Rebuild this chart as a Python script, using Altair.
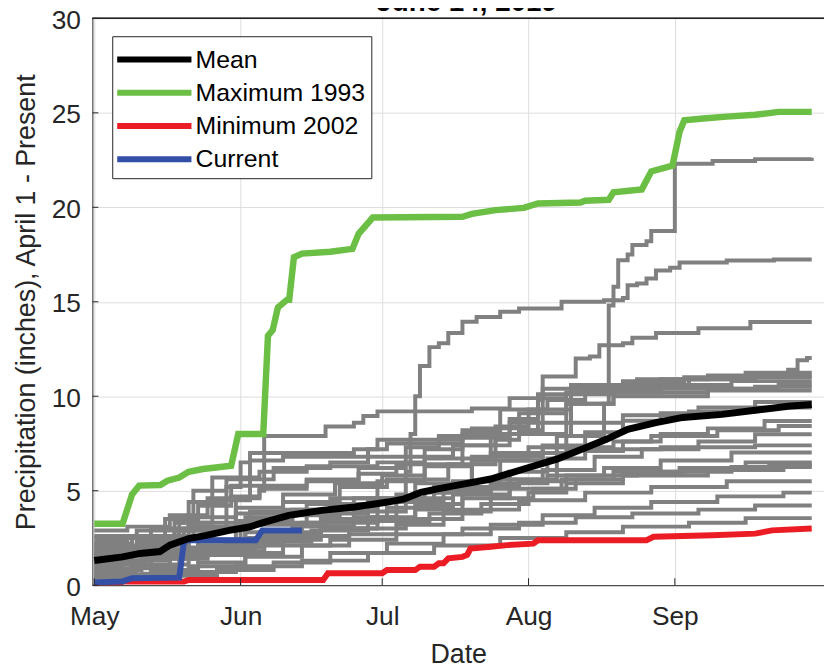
import altair as alt
import pandas as pd

# ---------------- data (day 0 = May 1, values in inches) ----------------
MONTH_STARTS = [0, 31, 61, 92, 123]
MONTH_LABELS = ["May", "Jun", "Jul", "Aug", "Sep"]
Y_TICKS = [0, 5, 10, 15, 20, 25, 30]
TITLE = ["June 14, 2019"]
SERIES = ["Mean", "Maximum 1993", "Minimum 2002", "Current"]
COLORS = ["#000000", "#6cbf45", "#ec1c24", "#3350a6"]

mean_pts = [(0, 1.31), (6, 1.5), (9.7, 1.68), (13.9, 1.78), (16, 2.12), (20, 2.47), (23.7, 2.64),
            (28.6, 2.9), (32.8, 3.08), (36.3, 3.35), (41.2, 3.7), (48.2, 3.96), (55.2, 4.14),
            (62.2, 4.4), (65.7, 4.57), (69.2, 4.92), (72.7, 5.1), (77, 5.3), (84, 5.62), (91, 6.15),
            (98, 6.67), (105, 7.37), (108.5, 7.72), (113, 8.25), (119, 8.6), (124.7, 8.88),
            (133, 9.04), (140, 9.26), (147, 9.47), (152, 9.56)]

max_pts = [(0, 3.25), (6, 3.25), (8, 4.8), (9.5, 5.27), (14, 5.3), (15.5, 5.53), (18, 5.7), (20, 6.0),
           (23, 6.15), (29, 6.32), (30.5, 8.0), (35.8, 8.0), (36.8, 13.2), (37.8, 13.5), (38.9, 14.7),
           (40.8, 15.1), (41.3, 15.1), (42.3, 17.36), (44, 17.55), (50, 17.65), (54.7, 17.8), (56, 18.6),
           (59, 19.46), (78, 19.5), (80, 19.65), (85, 19.85), (91, 19.97), (94, 20.2), (103, 20.25),
           (104, 20.35), (109, 20.4), (110, 20.8), (116, 20.95), (118, 21.9), (122.5, 22.2), (124, 24.0),
           (125, 24.6), (129, 24.7), (134, 24.8), (140, 24.9), (145, 25.05), (152, 25.05)]

min_pts = [(0, 0.02), (5, 0.02), (6, 0.19), (19, 0.19), (20, 0.28), (48.5, 0.28), (49.5, 0.63), (61, 0.63),
           (62, 0.8), (68, 0.8), (69, 0.98), (72, 0.98), (73, 1.16), (74, 1.16), (75, 1.42), (78, 1.5),
           (79, 1.6), (79.7, 1.94), (84, 2.03), (87.5, 2.12), (93, 2.2), (94, 2.38), (117, 2.38),
           (118.5, 2.56), (131, 2.64), (140, 2.73), (143.6, 2.9), (152, 3.0)]

cur_pts = [(0, 0.15), (6, 0.2), (8, 0.37), (18, 0.4), (19, 2.3), (20, 2.38), (34.2, 2.38),
           (35.6, 2.9), (44, 2.9)]

# other years, as steps (value holds from its day to the next one)
g01 = [(0, 1.6), (9, 2.0), (17, 2.9), (30, 3.4), (42, 4.0), (55, 4.6), (68, 5.4), (80, 6.6), (92, 7.3),
       (100, 7.9), (108, 9.6), (109, 14.8), (110, 15.8), (111, 17.2), (113, 17.5), (114, 18.0),
       (117, 18.2), (118, 18.75), (123, 22.3), (131, 22.45), (140, 22.55), (152, 22.62)]
g02 = [(0, 1.8), (9, 2.1), (20, 2.4), (31, 3.2), (45, 3.8), (58, 4.4), (64, 4.8), (66, 6.0), (67, 8.0),
       (68, 10.0), (69, 11.6), (71, 12.6), (73, 12.8), (75, 13.35), (78, 13.94), (81, 14.2), (86, 14.47),
       (90, 14.65), (99, 15.0), (108, 15.08), (112, 15.2), (113, 15.87), (115, 15.97), (117, 16.23),
       (119, 16.66), (122, 16.8), (124, 17.08), (134, 17.18), (144, 17.24), (152, 17.24)]
g03 = [(0, 2.2), (8, 2.5), (18, 3.3), (30, 3.8), (40, 4.4), (52, 5.2), (62, 5.6), (75, 6.4), (85, 7.7),
       (90, 8.2), (94, 9.8), (95, 11.05), (101, 11.05), (102, 12.0), (105, 12.1), (107, 12.7), (112, 12.8),
       (114, 13.1), (119, 13.35), (128, 13.6), (139, 13.93), (152, 13.93)]
g04 = [(0, 0.9), (12, 1.4), (22, 2.3), (32, 3.6), (40, 4.0), (50, 4.6), (60, 5.5), (70, 6.4), (78, 7.4),
       (85, 8.4), (92, 9.3), (101, 10.6), (115, 10.9), (130, 11.1), (147, 11.4), (149, 11.9), (151, 12.02),
       (152, 12.02)]
g05 = [(0, 2.0), (8, 2.6), (15, 3.5), (22, 4.2), (29, 4.7), (35, 5.0), (36, 7.9), (49, 8.4), (55, 8.6),
       (57, 8.95), (60, 9.2), (80, 9.35), (88, 9.9), (100, 10.2), (120, 10.4), (140, 10.5), (152, 10.5)]
g06 = [(0, 1.7), (10, 2.2), (19, 3.0), (28, 4.5), (33, 6.6), (40, 6.8), (58, 7.2), (60, 7.7), (78, 7.8),
       (88, 8.6), (100, 9.6), (110, 10.2), (130, 10.4), (145, 10.6), (152, 10.6)]
g07 = [(0, 2.5), (12, 3.0), (20, 4.4), (28, 5.2), (31, 6.5), (33, 7.0), (55, 7.2), (62, 7.5), (78, 8.0),
       (90, 8.2), (95, 10.4), (120, 10.9), (140, 11.1), (152, 11.1)]
g08 = [(0, 0.6), (9, 1.0), (18, 1.8), (30, 2.4), (44, 3.3), (60, 4.4), (72, 5.2), (80, 6.6), (84, 8.0),
       (88, 8.8), (94, 10.1), (110, 10.6), (126, 10.9), (138, 11.25), (152, 11.25)]
g09 = [(0, 1.2), (10, 1.5), (22, 2.1), (35, 2.8), (48, 3.5), (62, 4.1), (76, 4.8), (88, 5.6), (98, 7.9),
       (101, 10.4), (120, 10.6), (135, 10.8), (152, 10.8)]
g10 = [(0, 2.9), (7, 3.1), (16, 3.7), (24, 4.6), (29, 5.26), (45, 5.5), (56, 5.9), (64, 6.4), (70, 7.2),
       (78, 8.2), (86, 9.3), (96, 9.8), (104, 10.3), (112, 10.8), (125, 11.0), (152, 11.0)]
g11 = [(0, 1.0), (6, 1.3), (16, 2.6), (21, 5.0), (28, 5.6), (38, 6.2), (50, 6.5), (58, 6.8), (66, 7.3),
       (73, 7.9), (80, 8.3), (90, 9.1), (100, 9.6), (110, 10.0), (130, 10.3), (152, 10.3)]
g12 = [(0, 1.4), (8, 1.6), (20, 2.0), (32, 2.8), (42, 3.3), (55, 3.9), (66, 4.6), (76, 5.5), (86, 6.6),
       (95, 7.4), (104, 8.1), (112, 8.7), (120, 9.1), (128, 9.4), (140, 9.7), (152, 9.7)]
g13 = [(0, 0.5), (12, 0.8), (22, 1.2), (32, 1.7), (40, 2.4), (48, 3.0), (58, 3.6), (68, 4.3), (78, 5.1),
       (88, 6.0), (96, 6.7), (104, 7.1), (112, 7.6), (120, 8.0), (130, 8.3), (142, 8.69), (152, 8.69)]
g14 = [(0, 2.6), (9, 2.9), (20, 3.6), (30, 4.1), (40, 4.8), (51, 5.4), (61, 5.8), (70, 6.3), (80, 6.8),
       (95, 7.3), (110, 7.6), (118, 7.9), (132, 8.2), (145, 8.42), (152, 8.42)]
g15 = [(0, 0.8), (10, 1.1), (20, 1.6), (32, 2.5), (42, 3.1), (55, 3.6), (64, 4.4), (74, 5.0), (84, 5.6),
       (95, 6.1), (106, 6.8), (116, 7.2), (128, 7.6), (140, 7.99), (152, 7.99)]
g16 = [(0, 1.9), (9, 2.3), (18, 2.9), (30, 3.3), (40, 3.7), (52, 4.1), (60, 4.5), (72, 4.9), (84, 5.4),
       (96, 5.8), (108, 6.2), (120, 6.6), (135, 7.02), (152, 7.02)]
g17 = [(0, 0.4), (10, 0.6), (20, 1.0), (32, 1.5), (44, 2.1), (54, 2.7), (64, 3.2), (74, 3.9), (84, 4.6),
       (93, 5.1), (102, 5.6), (112, 5.9), (124, 6.2), (138, 6.5), (152, 6.5)]
g18 = [(0, 1.1), (11, 1.4), (24, 1.9), (34, 2.3), (46, 2.9), (58, 3.5), (68, 4.0), (78, 4.6), (88, 5.1),
       (99, 5.6), (110, 6.0), (125, 6.2), (143, 6.4), (152, 6.4)]
g19 = [(0, 0.7), (8, 1.0), (16, 1.5), (24, 2.0), (36, 2.6), (48, 3.0), (60, 3.4), (71, 3.8), (82, 4.3),
       (92, 4.9), (100, 5.4), (112, 5.8), (130, 6.1), (146, 6.3), (152, 6.3)]
g20 = [(0, 2.1), (12, 2.4), (20, 3.1), (33, 3.9), (45, 4.3), (58, 4.6), (70, 4.9), (80, 5.2), (90, 5.5),
       (100, 5.8), (115, 6.0), (135, 6.25), (152, 6.25)]
g21 = [(0, 0.3), (14, 0.5), (26, 0.8), (38, 1.2), (50, 1.7), (62, 2.2), (74, 2.7), (84, 3.2), (95, 3.7),
       (106, 4.1), (118, 4.4), (132, 4.7), (146, 4.9), (152, 4.9)]
g22 = [(0, 1.3), (10, 1.5), (22, 1.8), (36, 2.1), (50, 2.4), (64, 2.7), (78, 3.0), (90, 3.3), (102, 3.6),
       (114, 3.8), (128, 4.0), (140, 4.22), (152, 4.22)]
g23 = [(0, 0.55), (16, 0.7), (30, 1.0), (44, 1.3), (58, 1.7), (72, 2.1), (86, 2.5), (100, 2.8), (112, 3.1),
       (126, 3.3), (138, 3.55), (152, 3.55)]
g24 = [(0, 1.5), (15, 1.8), (28, 2.2), (40, 2.6), (54, 3.0), (66, 3.5), (78, 4.0), (90, 4.5), (104, 4.9),
       (118, 5.2), (134, 5.5), (152, 5.5)]
g25 = [(0, 2.3), (7, 2.6), (17, 3.3), (25, 5.7), (35, 6.0), (45, 6.3), (60, 6.5), (70, 6.7), (84, 7.0),
       (100, 7.2), (120, 7.3), (140, 7.4), (152, 7.4)]
g26 = [(0, 1.6), (9, 1.9), (20, 2.4), (30, 4.6), (35, 5.1), (45, 5.6), (56, 6.2), (66, 6.8), (76, 7.4),
       (88, 8.0), (100, 8.6), (112, 9.0), (126, 9.2), (140, 9.4), (152, 9.4)]
GRAY = [g01, g02, g03, g04, g05, g06, g07, g08, g09, g10, g11, g12, g13,
        g14, g15, g16, g17, g18, g19, g20, g21, g22, g23, g24, g25, g26]

# ---------------- tables ----------------
gray_df = pd.DataFrame([{"year": i, "day": d, "precip": v}
                        for i, pts in enumerate(GRAY) for d, v in pts])
hl_rows = []
for name, pts in zip(SERIES, [mean_pts, max_pts, min_pts, cur_pts]):
    for k, (d, v) in enumerate(pts):
        hl_rows.append({"series": name, "day": d, "precip": v, "k": k})
hl_df = pd.DataFrame(hl_rows)
xtick_df = pd.DataFrame({"day": MONTH_STARTS})
ytick_df = pd.DataFrame({"precip": Y_TICKS})
title_df = pd.DataFrame({"title": TITLE})

W, H = 737, 571
FONT = "Liberation Sans"
label_expr = "[" + ",".join(f"'{m}'" for m in MONTH_LABELS) + "][indexof([" + \
    ",".join(str(d) for d in MONTH_STARTS) + "], datum.value)]"

x_scale = alt.Scale(domain=[-0.4, 154.6], nice=False, zero=False)
y_scale = alt.Scale(domain=[0, 30], nice=False)

x_enc = alt.X("day:Q", scale=x_scale, axis=alt.Axis(
    values=MONTH_STARTS, labelExpr=label_expr, title="Date", ticks=False, tickSize=0,
    labelPadding=19, titleY=70, titleBaseline="middle", labelFlush=False))
y_enc = alt.Y("precip:Q", scale=y_scale, axis=alt.Axis(
    values=Y_TICKS, title="Precipitation (inches), April 1 - Present", ticks=False, tickSize=0,
    labelPadding=12, labelOffset=2, titleX=-66, titleY=H / 2, titleAngle=-90,
    titleBaseline="middle", titleAlign="center"))

gray = alt.Chart(gray_df).mark_line(interpolate="step-after", strokeWidth=4, color="#808080",
                                    clip=True).encode(
    x=x_enc, y=y_enc, detail="year:N")

color_enc = alt.Color("series:N", scale=alt.Scale(domain=SERIES, range=COLORS),
                      legend=alt.Legend(
                          title=" ", titleFontSize=1, titlePadding=4,
                          orient="none", legendX=20, legendY=18,
                          symbolType="M-1,0H7.8", symbolSize=289, symbolStrokeWidth=6,
                          labelFontSize=25, labelFont=FONT, labelColor="black",
                          labelOffset=58, labelLimit=400, strokeColor="#262626",
                          fillColor="white", padding=6, rowPadding=7.5, symbolOffset=-5))


def hl(name, width):
    return alt.Chart(hl_df).transform_filter(alt.datum.series == name).mark_line(
        strokeWidth=width, clip=True).encode(
        x="day:Q", y="precip:Q", color=color_enc, order="k:Q")


xticks = alt.Chart(xtick_df).mark_rule(color="#262626", strokeWidth=1).encode(
    x="day:Q", y=alt.value(H - 7), y2=alt.value(H))
yticks = alt.Chart(ytick_df).mark_rule(color="#262626", strokeWidth=1).encode(
    y="precip:Q", x=alt.value(0), x2=alt.value(6))
top_border = alt.Chart(ytick_df).mark_rule(color="#262626", strokeWidth=1).encode(
    y=alt.datum(30))
title_mark = alt.Chart(title_df).mark_text(
    font=FONT, fontSize=28, fontWeight="bold", color="black", baseline="alphabetic",
    align="center").encode(text="title:N", x=alt.value(W / 2 + 8.5), y=alt.value(-7))

chart = alt.layer(
    gray,
    hl("Minimum 2002", 6),
    hl("Current", 6),
    hl("Maximum 1993", 6.5),
    hl("Mean", 7),
    xticks, yticks, top_border, title_mark,
).properties(
    width=W, height=H,
    autosize=alt.AutoSizeParams(type="none"),
    padding={"left": 85, "top": 8, "right": 0, "bottom": 84},
).configure_view(stroke=None).configure_axis(
    labelFont=FONT, titleFont=FONT, labelFontSize=26.5, titleFontSize=27,
    labelColor="#262626", titleColor="#262626", titleFontWeight="normal",
    gridColor="#dedede", gridWidth=1, domainColor="#262626", domainWidth=1,
).configure_axisY(labelAlign="right", labelBaseline="middle")

chart.save("out.html", embed_options={"renderer": "svg", "actions": False})
